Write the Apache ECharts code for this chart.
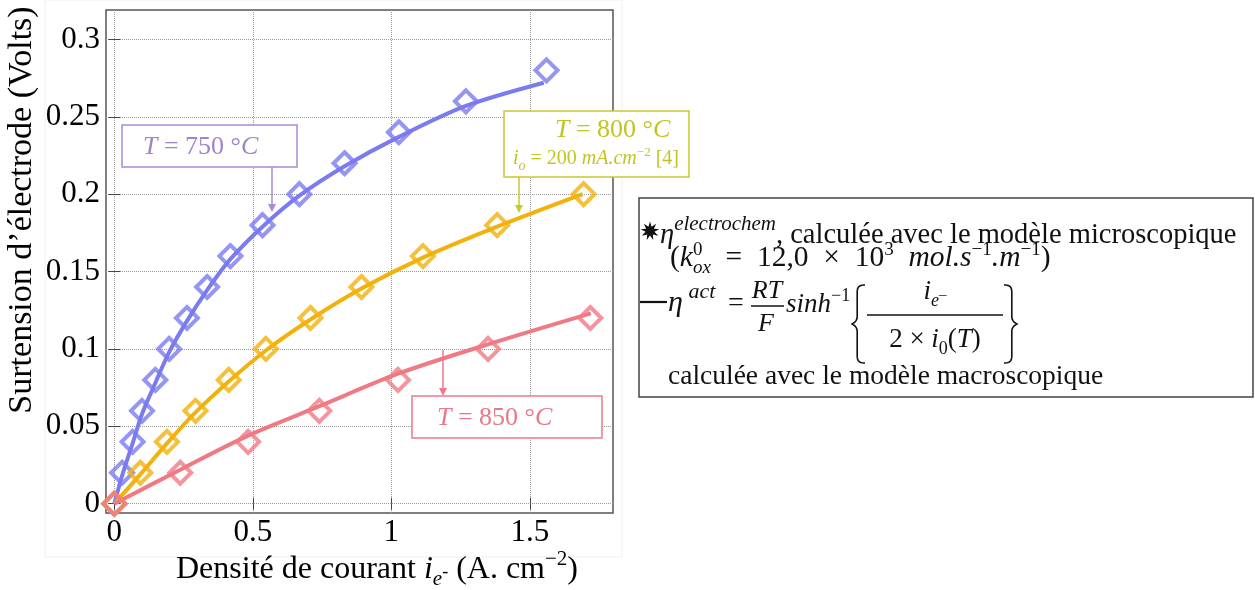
<!DOCTYPE html>
<html><head><meta charset="utf-8">
<script src="https://cdn.jsdelivr.net/npm/echarts@6/dist/echarts.min.js"></script>
<style>html,body{margin:0;padding:0;background:#fff}#c{width:1255px;height:590px}</style>
</head><body><div id="c"></div>
<script>
// ---------- data ----------
const xTickValues = [0, 0.5, 1, 1.5];
const xTickLabels = ['0', '0.5', '1', '1.5'];
const yTickValues = [0, 0.05, 0.1, 0.15, 0.2, 0.25, 0.3];
const yTickLabels = ['0', '0.05', '0.1', '0.15', '0.2', '0.25', '0.3'];

// microscopic model (diamonds)
const x750 = [0, 0.028, 0.066, 0.10, 0.148, 0.198, 0.262, 0.335, 0.419, 0.535, 0.668, 0.831, 1.027, 1.269, 1.56];
const y750 = [0, 0.02, 0.04, 0.06, 0.08, 0.10, 0.12, 0.14, 0.16, 0.18, 0.20, 0.22, 0.24, 0.26, 0.28];
const x800 = [0, 0.094, 0.19, 0.293, 0.413, 0.547, 0.708, 0.892, 1.114, 1.382, 1.694];
const y800 = [0, 0.02, 0.04, 0.06, 0.08, 0.10, 0.12, 0.14, 0.16, 0.18, 0.20];
const x850 = [0, 0.238, 0.483, 0.74, 1.024, 1.349, 1.718];
const y850 = [0, 0.02, 0.04, 0.06, 0.08, 0.10, 0.12];

// macroscopic model (lines)
const xFit750 = [0, 0.028, 0.066, 0.10, 0.148, 0.198, 0.262, 0.335, 0.419, 0.535, 0.668, 0.831, 1.027, 1.269, 1.55];
const yFit750 = [0, 0.018, 0.039, 0.058, 0.078, 0.098, 0.118, 0.138, 0.158, 0.179, 0.199, 0.218, 0.237, 0.257, 0.272];
const xFit800 = [0, 0.094, 0.19, 0.293, 0.413, 0.547, 0.708, 0.892, 1.114, 1.382, 1.69];
const yFit800 = [0, 0.019, 0.039, 0.059, 0.079, 0.099, 0.119, 0.139, 0.159, 0.179, 0.2];
const xFit850 = [0, 0.238, 0.483, 0.74, 1.024, 1.349, 1.72];
const yFit850 = [0, 0.022, 0.044, 0.063, 0.084, 0.103, 0.123];

// ---------- styles ----------
const X_MIN = -0.03, X_MAX = 1.8, Y_MIN = -0.006, Y_MAX = 0.319;
const C750 = '#7b7bf0', C800 = '#f3b10c', C850 = '#f07a83';
const A750 = '#a98ad3', A800 = '#c6c92c', A850 = '#ec7a8a';
const FF = '"Liberation Serif", "Times New Roman", serif';

const zip = (a, b) => a.map((v, i) => [v, b[i]]);
const lab = (vals, labs) => v => { const i = vals.findIndex(t => Math.abs(t - v) < 1e-9); return i < 0 ? '' : labs[i]; };

function curve(color, xs, ys) {
  return { type: 'line', data: zip(xs, ys), showSymbol: false, symbol: 'none', smooth: 0.3,
    lineStyle: { color, width: 4 }, z: 2, silent: true, animation: false };
}
function pts(color, xs, ys) {
  return { type: 'scatter', data: zip(xs, ys), symbol: 'diamond', symbolSize: 22,
    itemStyle: { color: 'rgba(255,255,255,0)', borderColor: color, borderWidth: 4 }, z: 3, silent: true, animation: false };
}

// ---------- text helpers ----------
const mctx = document.createElement('canvas').getContext('2d');
function fnt(s, it) { return (it ? 'italic ' : '') + s + 'px ' + FF; }
function tw(t, s, it) { mctx.font = fnt(s, it); return mctx.measureText(t).width; }
function txt(x, base, t, s, it, color, align) {
  return { type: 'text', x: x, y: base - 0.34 * s, z: 110, silent: true,
    style: { text: t, font: fnt(s, it), fill: color, align: align || 'left', verticalAlign: 'middle' } };
}
function run(x, base, pieces, color, size) {
  const els = []; let cx = x, lastStart = x, lastEnd = x;
  for (const p of pieces) {
    const q = typeof p === 'string' ? { t: p } : p;
    const s = q.s || size, it = !!q.i;
    const start = q.stack ? lastStart : cx;
    const w = tw(q.t, s, it);
    els.push(txt(start, base + (q.dy || 0), q.t, s, it, color));
    const end = start + w;
    cx = q.stack ? Math.max(lastEnd, end) : end;
    if (!q.stack) lastStart = start;
    lastEnd = cx;
  }
  return { els, end: cx };
}
function runWidth(pieces, size) {
  let w = 0, lastW = 0;
  for (const p of pieces) {
    const q = typeof p === 'string' ? { t: p } : p;
    const ww = tw(q.t, q.s || size, !!q.i);
    if (q.stack) { w += Math.max(0, ww - lastW); } else { w += ww; lastW = ww; }
  }
  return w;
}
function arrow(x, y1, y2, color) {
  return [
    { type: 'line', z: 105, silent: true, shape: { x1: x, y1: y1, x2: x, y2: y2 - 6 }, style: { stroke: color, lineWidth: 1.5 } },
    { type: 'polygon', z: 105, silent: true, shape: { points: [[x - 4, y2 - 8], [x + 4, y2 - 8], [x, y2]] }, style: { fill: color } }
  ];
}
function box(x, y, w, h, color, lw) {
  return { type: 'rect', z: 100, silent: true, shape: { x, y, width: w, height: h }, style: { fill: '#fff', stroke: color, lineWidth: lw || 1.5 } };
}
function hline(x1, x2, y, color, lw) {
  return { type: 'line', z: 110, silent: true, shape: { x1, y1: y, x2, y2: y }, style: { stroke: color, lineWidth: lw || 1.3 } };
}
function brace(x, y, w, h, left) {
  const segs = [
    [[10, 0], [5, 0], [4, 3], [4, 10]],
    [[4, 10], [4, 20], [4, 30], [4, 40]],
    [[4, 40], [4, 46], [2, 48], [0, 50]],
    [[0, 50], [2, 52], [4, 54], [4, 60]],
    [[4, 60], [4, 70], [4, 80], [4, 90]],
    [[4, 90], [4, 97], [5, 100], [10, 100]]
  ];
  const p = [];
  for (const s of segs) {
    for (let k = 0; k <= 12; k++) {
      const t = k / 12, u = 1 - t;
      let px = u*u*u*s[0][0] + 3*u*u*t*s[1][0] + 3*u*t*t*s[2][0] + t*t*t*s[3][0];
      const py = u*u*u*s[0][1] + 3*u*u*t*s[1][1] + 3*u*t*t*s[2][1] + t*t*t*s[3][1];
      if (!left) px = 10 - px;
      p.push([x + px / 10 * w, y + py / 100 * h]);
    }
  }
  return { type: 'polyline', z: 110, silent: true, shape: { points: p }, style: { fill: null, stroke: '#111', lineWidth: 1.6 } };
}
function star(cx, cy, r1, r2, n) {
  const p = [];
  for (let i = 0; i < 2 * n; i++) { const a = Math.PI * i / n; const r = i % 2 ? r2 : r1; p.push([cx + r * Math.sin(a), cy - r * Math.cos(a)]); }
  return { type: 'polygon', z: 110, silent: true, shape: { points: p }, style: { fill: '#111' } };
}

// ---------- graphics ----------
const G = [];
// faint frame of the pasted figure
G.push({ type: 'rect', z: -10, silent: true, shape: { x: 45, y: 0, width: 577, height: 557 }, style: { fill: null, stroke: '#efefef', lineWidth: 1 } });
G.push({ type: 'text', x: 22, y: 210, rotation: Math.PI / 2, z: 110, silent: true,
  style: { text: 'Surtension d\u2019électrode (Volts)', font: fnt(34, false), fill: '#000', align: 'center', verticalAlign: 'middle' } });
const xl = [ 'Densité de courant ', { t: 'i', i: true }, { t: 'e', i: true, s: 21, dy: 7 }, { t: '-', s: 18, dy: -2 },
  ' (A. cm', { t: '\u22122', s: 21, dy: -13 }, ')' ];
const xlw = runWidth(xl, 32);
G.push(...run(377 - xlw / 2, 580, xl, '#000', 32).els);

// T = 750 °C
G.push(box(122, 125, 175, 42, A750));
G.push(...run(143, 156, [{ t: 'T', i: true }, ' = 750 °', { t: 'C', i: true }], '#a083c8', 26).els);
G.push(...arrow(272, 167, 212, A750));

// T = 800 °C
const l800a = [{ t: 'T', i: true }, ' = 800 °', { t: 'C', i: true }];
const l800b = [{ t: 'i', i: true }, { t: 'o', i: true, s: 14, dy: 5 }, ' = 200 ', { t: 'mA.cm', i: true }, { t: '\u22122', s: 13, dy: -9 }, ' [4]'];
const r800a = run(555, 139, l800a, '#c2c424', 26);
const r800b = run(513, 166, l800b, '#c2c424', 20);
const w800 = Math.max(r800a.end, r800b.end) + 10 - 504;
G.push(box(504, 111, w800, 66, A800));
G.push(...r800a.els, ...r800b.els);
G.push(...arrow(519, 177, 213, A800));

// T = 850 °C
G.push(box(412, 396, 190, 42, A850));
G.push(...run(437, 427, [{ t: 'T', i: true }, ' = 850 °', { t: 'C', i: true }], '#e8788a', 26).els);
G.push(...arrow(443, 350, 396, A850));

// legend box
G.push(box(639, 198, 614, 199, '#444', 1.5));
G.push(star(650, 231, 9.5, 4.5, 9));
G.push(...run(660, 245, [{ t: '\u03b7', i: true }, { t: 'electrochem', i: true, s: 21, dy: -13 }, ', calculée avec le modèle microscopique'], '#111', 28.5).els);
G.push(...run(670, 268, ['(', { t: 'k', i: true }, { t: '0', s: 19, dy: -12 }, { t: 'ox', i: true, s: 19, dy: 6, stack: true },
  '\u2002=\u200212,0\u2002×\u200210', { t: '3', s: 19, dy: -12 }, '\u2002', { t: 'mol.s', i: true }, { t: '\u22121', s: 19, dy: -12 },
  { t: '.m', i: true }, { t: '\u22121', s: 19, dy: -12 }, ')'], '#111', 29.5).els);
G.push(hline(640, 667, 302, '#111', 2.2));
G.push(...run(668, 313, [{ t: '\u03b7', i: true }, { t: ' act', i: true, s: 22, dy: -13 }], '#111', 30).els);
G.push(txt(736, 313, '=', 28, false, '#111', 'center'));
G.push(txt(767, 300, 'RT', 26, true, '#111', 'center'));
G.push(hline(751, 784, 306, '#111', 1.3));
G.push(txt(766, 333, 'F', 26, true, '#111', 'center'));
G.push(...run(786, 314, [{ t: 'sinh', i: true }, { t: '\u22121', s: 18, dy: -12 }], '#111', 27).els);
G.push(brace(852, 285, 13, 78, true));
const num = [{ t: 'i', i: true }, { t: 'e', i: true, s: 18, dy: 6 }, { t: '\u2013', s: 15, dy: -1 }];
G.push(...run(935 - runWidth(num, 27) / 2, 301, num, '#111', 27).els);
G.push(hline(867, 1003, 315, '#111', 1.3));
const den = ['2 × ', { t: 'i', i: true }, { t: '0', s: 18, dy: 6 }, '(', { t: 'T', i: true }, ')'];
G.push(...run(935 - runWidth(den, 27) / 2, 349, den, '#111', 27).els);
G.push(brace(1004, 285, 13, 78, false));
G.push(txt(668, 386, 'calculée avec le modèle macroscopique', 27.5, false, '#111'));

// ---------- chart ----------
const chart = echarts.init(document.getElementById('c'), null, { renderer: 'canvas' });
const tickStyle = { color: '#444', width: 1 };
chart.setOption({
  animation: false,
  backgroundColor: '#fff',
  grid: { left: 106, right: 642, top: 10, bottom: 77, show: true, borderColor: '#555', borderWidth: 1.5, backgroundColor: 'transparent' },
  xAxis: [
    { type: 'value', min: X_MIN, max: X_MAX, position: 'bottom',
      axisLine: { show: false },
      axisTick: { show: true, inside: true, length: 6, customValues: xTickValues, lineStyle: tickStyle },
      axisLabel: { customValues: xTickValues, formatter: lab(xTickValues, xTickLabels), color: '#000', fontFamily: FF, fontSize: 31, margin: 4 },
      splitLine: { show: true, lineStyle: { color: '#9a9a9a', type: 'dotted', width: 1 } } },
    { type: 'value', min: X_MIN, max: X_MAX, position: 'top',
      axisLine: { show: false },
      axisTick: { show: true, inside: true, length: 6, customValues: xTickValues, lineStyle: tickStyle },
      axisLabel: { show: false }, splitLine: { show: false } }
  ],
  yAxis: [
    { type: 'value', min: Y_MIN, max: Y_MAX, position: 'left',
      axisLine: { show: false },
      axisTick: { show: true, inside: true, length: 6, customValues: yTickValues, lineStyle: tickStyle },
      axisLabel: { customValues: yTickValues, formatter: lab(yTickValues, yTickLabels), color: '#000', fontFamily: FF, fontSize: 31, margin: 6 },
      splitLine: { show: true, lineStyle: { color: '#9a9a9a', type: 'dotted', width: 1 } } },
    { type: 'value', min: Y_MIN, max: Y_MAX, position: 'right',
      axisLine: { show: false },
      axisTick: { show: true, inside: true, length: 6, customValues: yTickValues, lineStyle: tickStyle },
      axisLabel: { show: false }, splitLine: { show: false } }
  ],
  series: [
    curve(C750, xFit750, yFit750),
    curve(C800, xFit800, yFit800),
    curve(C850, xFit850, yFit850),
    pts(C750, x750, y750),
    pts(C800, x800, y800),
    pts(C850, x850, y850)
  ],
  graphic: G
});
</script>
</body></html>
